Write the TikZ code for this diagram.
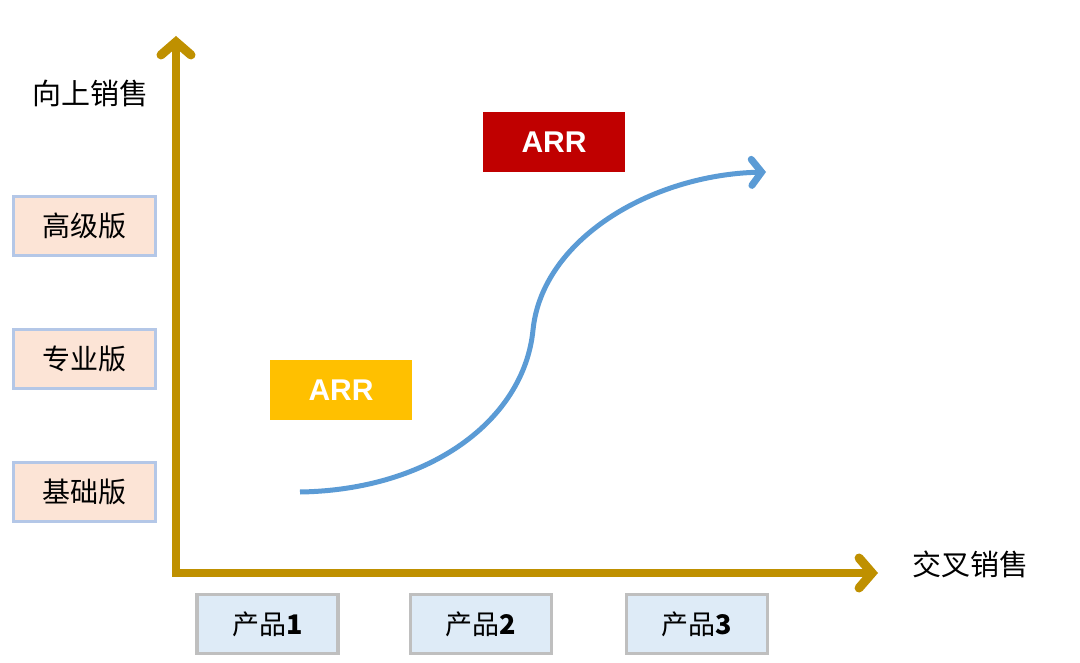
\documentclass[tikz,border=0pt]{standalone}
\usepackage{fontspec}
\setmainfont{Liberation Sans}
\newfontfamily\cjk{Noto Sans CJK SC}
\usetikzlibrary{arrows.meta}
\definecolor{axisgold}{RGB}{191,144,0}
\definecolor{curveblue}{RGB}{91,155,213}
\definecolor{peach}{RGB}{252,228,214}
\definecolor{peachline}{RGB}{180,199,231}
\definecolor{lightblue}{RGB}{222,235,247}
\definecolor{grayline}{RGB}{191,191,191}
\definecolor{arryellow}{RGB}{255,192,0}
\definecolor{arrred}{RGB}{192,0,0}
\tikzset{
  tierbox/.style={draw=peachline, fill=peach, line width=3pt, minimum width=142pt, minimum height=59pt, inner sep=0pt, font=\cjk\fontsize{28}{28}\selectfont},
  prodbox/.style={draw=grayline, fill=lightblue, line width=3.5pt, minimum width=141pt, minimum height=59pt, inner sep=0pt, font=\cjk\fontsize{27}{27}\selectfont},
  arrbox/.style={minimum width=142pt, minimum height=60pt, inner sep=0pt, text=white, font=\bfseries\fontsize{30}{30}\selectfont},
  axislabel/.style={inner sep=0pt, font=\cjk\fontsize{29}{29}\selectfont},
  axisline/.style={draw=axisgold, line width=8pt, {Straight Barb[length=13pt,width=30pt,line width=9pt,line cap=round]}-{Straight Barb[length=13pt,width=30pt,line width=9pt,line cap=round]}},
  curveline/.style={draw=curveblue, line width=5pt, -{Straight Barb[length=10pt,width=26pt,line width=7pt,line cap=round]}}
}
\begin{document}
\begin{tikzpicture}[x=1pt,y=-1pt]
\useasboundingbox (0,0) rectangle (1080,663);
\coordinate (ytop) at (176,36);
\coordinate (corner) at (176,573);
\coordinate (xend) at (878,573);
\draw[axisline] (ytop) -- (corner) -- (xend);
\node[axislabel] (up) at (90,93) {向上销售};
\node[axislabel] (cross) at (970,564) {交叉销售};
\node[tierbox] (t3) at (84.5,226) {高级版};
\node[tierbox] (t2) at (84.5,359) {专业版};
\node[tierbox] (t1) at (84.5,492) {基础版};
\node[prodbox] (p1) at (267.5,624) {产品\textbf{1}};
\node[prodbox] (p2) at (481,624) {产品\textbf{2}};
\node[prodbox] (p3) at (697,624) {产品\textbf{3}};
\node[arrbox, fill=arryellow] (arr1) at (341,390) {ARR};
\node[arrbox, fill=arrred] (arr2) at (554,142) {ARR};
\coordinate (cstart) at (300,492);
\coordinate (cmid) at (533,330);
\coordinate (cend) at (766,172);
\draw[curveline] (cstart) .. controls (430,490) and (524,420) .. (cmid) .. controls (542,240) and (650,175) .. (cend);
\end{tikzpicture}
\end{document}
